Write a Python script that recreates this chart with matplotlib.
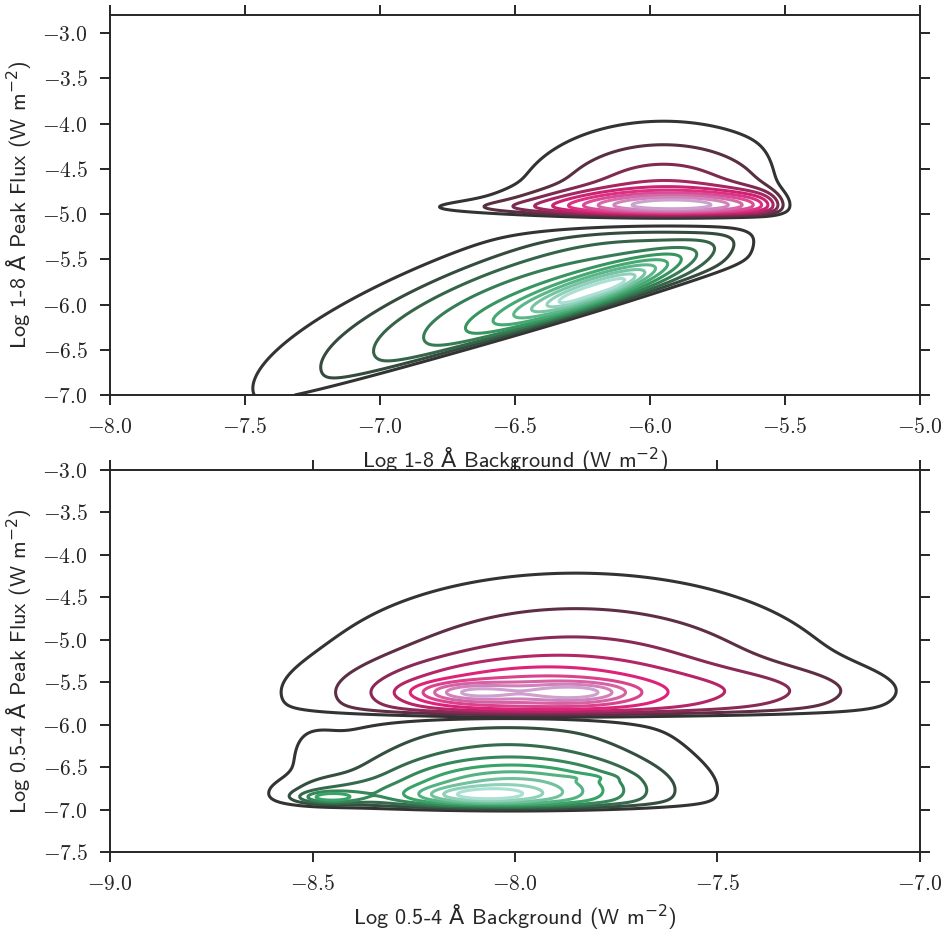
import numpy as np
import matplotlib
matplotlib.use("Agg")
import matplotlib.pyplot as plt
from matplotlib.colors import LinearSegmentedColormap
from matplotlib.ticker import FuncFormatter, MultipleLocator

plt.rcParams["mathtext.fontset"] = "custom"
plt.rcParams["mathtext.rm"] = "cmr10"
plt.rcParams["mathtext.sf"] = "DejaVu Sans"
plt.rcParams["mathtext.fallback"] = "cm"

# Each population is described by a few gaussian blobs:
# (x centre, y centre, x sd, sd across the ridge, ridge slope, peak weight)
top_green = [
    (-6.45, -5.98, 0.57, 0.47, 0.93, 0.40),
    (-6.20, -5.82, 0.22, 0.12, 1.0, 0.45),
    (-6.13, -5.78, 0.07, 0.05, 1.0, 0.10),
    (-6.29, -5.93, 0.05, 0.04, 1.0, 0.08),
]
top_pink = [
    (-5.89, -4.91, 0.33, 0.11, 0.0, 0.62),
    (-5.95, -4.91, 0.32, 0.55, 0.0, 0.38),
    (-6.55, -4.93, 0.28, 0.06, 0.0, 0.09),
]
bot_green = [
    (-8.10, -6.83, 0.10, 0.07, 0.0, 0.30),
    (-8.00, -6.78, 0.20, 0.22, 0.0, 0.45),
    (-8.02, -6.75, 0.30, 0.70, 0.0, 0.40),
    (-8.46, -6.86, 0.05, 0.05, 0.0, 0.35),
    (-8.45, -6.80, 0.10, 0.12, 0.0, 0.15),
    (-7.82, -6.62, 0.05, 0.03, 0.0, 0.06),
    (-8.50, -6.25, 0.05, 0.30, 0.0, 0.05),
]
bot_pink = [
    (-8.11, -5.62, 0.09, 0.08, 0.0, 0.35),
    (-7.85, -5.62, 0.09, 0.08, 0.0, 0.35),
    (-8.00, -5.62, 0.26, 0.25, 0.0, 0.30),
    (-7.85, -5.62, 0.40, 0.85, 0.0, 0.40),
    (-7.35, -5.60, 0.20, 0.20, 0.0, 0.13),
]

# selection edges of each population
top_green_cut = (-0.588, 0.88)   # y >= a + b*x
top_green_ymax = -5.15
top_green_xmax = -5.60
top_pink_ymin = -5.0
top_pink_xmax = -5.52
bot_green_ymin = -6.97
bot_green_ymax = -5.92
bot_pink_ymin = -5.87

# contour levels drawn per population
top_levels = 10
bot_levels = 9

top_xlim, top_ylim = (-8.0, -5.0), (-7.0, -2.8)
bot_xlim, bot_ylim = (-9.0, -7.0), (-7.5, -3.0)


def blobs(X, Y, comps):
    z = np.zeros_like(X)
    for cx, cy, sx, sy, k, w in comps:
        dx = (X - cx) / sx
        dy = (Y - cy - k * (X - cx)) / sy
        z += w * np.exp(-0.5 * (dx**2 + dy**2))
    return z


def edge(t, h=0.03):
    return 1.0 / (1.0 + np.exp(-np.clip(t / h, -50, 50)))


def dark_cmap(name):
    base = plt.get_cmap(name)
    return LinearSegmentedColormap.from_list(
        name + "_d", ["#333333", base(2 / 3), base(1 / 3)])


def draw(ax, z, cmap, n):
    z = z / z.max()
    levels = np.linspace(0, 1, n + 2)[1:-1]
    ax.contour(X, Y, z, levels=levels, colors=cmap(np.linspace(0, 1, n)),
               linewidths=2.2)


greens = dark_cmap("BuGn")
pinks = dark_cmap("PuRd")

fig = plt.figure(figsize=(9.46, 9.33), dpi=100)
ax1 = fig.add_axes([0.1163, 0.5766, 0.8562, 0.4073])
ax2 = fig.add_axes([0.1163, 0.0868, 0.8562, 0.4094])

# upper panel
X, Y = np.meshgrid(np.linspace(*top_xlim, 500), np.linspace(*top_ylim, 500))
a, b = top_green_cut
zg = (blobs(X, Y, top_green) * edge(Y - a - b * X)
      * edge(top_green_ymax - Y, 0.05) * edge(top_green_xmax - X, 0.05))
zp = blobs(X, Y, top_pink) * edge(Y - top_pink_ymin, 0.025) * edge(top_pink_xmax - X, 0.03)
draw(ax1, zg, greens, top_levels)
draw(ax1, zp, pinks, top_levels)

# lower panel
X, Y = np.meshgrid(np.linspace(*bot_xlim, 500), np.linspace(*bot_ylim, 500))
zg = blobs(X, Y, bot_green) * edge(Y - bot_green_ymin) * edge(bot_green_ymax - Y, 0.05)
zp = blobs(X, Y, bot_pink) * edge(Y - bot_pink_ymin)
draw(ax2, zg, greens, bot_levels)
draw(ax2, zp, pinks, bot_levels)

ring = r"$\mathsf{Å}$"
unit = r"(W m$^{\mathsf{-2}}$)"
fmt = FuncFormatter(lambda v, p: f"${v:.1f}$")

for ax, xlim, ylim, xlab, ylab in [
    (ax1, top_xlim, top_ylim,
     f"Log 1-8 {ring} Background {unit}", f"Log 1-8 {ring} Peak Flux {unit}"),
    (ax2, bot_xlim, bot_ylim,
     f"Log 0.5-4 {ring} Background {unit}", f"Log 0.5-4 {ring} Peak Flux {unit}"),
]:
    ax.set_xlim(*xlim)
    ax.set_ylim(*ylim)
    ax.xaxis.set_major_locator(MultipleLocator(0.5))
    ax.yaxis.set_major_locator(MultipleLocator(0.5))
    ax.xaxis.set_major_formatter(fmt)
    ax.yaxis.set_major_formatter(fmt)
    ax.tick_params(direction="out", length=7, width=1.4, pad=9,
                   labelsize=15.5, colors="#262626",
                   top=True, right=True)
    for s in ax.spines.values():
        s.set_linewidth(1.4)
        s.set_color("#262626")
    ax.set_xlabel(xlab, fontsize=16, family="cmss10", color="#262626", labelpad=6)
    ax.set_ylabel(ylab, fontsize=16, family="cmss10", color="#262626", labelpad=6)

fig.savefig("out.png", dpi=100)
